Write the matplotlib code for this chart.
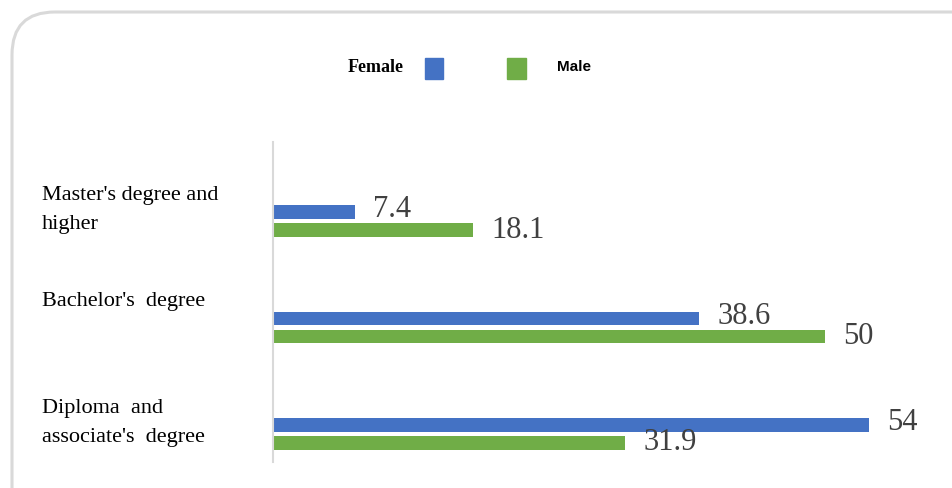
import matplotlib.pyplot as plt
from matplotlib.patches import FancyBboxPatch, Rectangle
from matplotlib.transforms import blended_transform_factory
import numpy as np

categories = ["Master's degree and\nhigher", "Bachelor's  degree", "Diploma  and\nassociate's  degree"]
female = [7.4, 38.6, 54]
male = [18.1, 50, 31.9]

BLUE = "#4472C4"
GREEN = "#70AD47"
TEXT = "#404040"
W, H = 953, 488

plt.rcParams['font.family'] = ['Liberation Serif', 'DejaVu Serif']

fig = plt.figure(figsize=(W / 100, H / 100), dpi=100)

# rounded frame around the whole chart
frame = FancyBboxPatch((12 / W, -0.2), (W + 40) / W, 1.2 - 12 / H,
                       boxstyle="round,pad=0,rounding_size=0.045",
                       transform=fig.transFigure, fill=False,
                       edgecolor="#d9d9d9", linewidth=2.2,
                       mutation_aspect=W / H)
fig.patches.append(frame)

# plot area
x0, x1 = 273, 273 + 11.04 * 60
ytop, ybot = 142, 462
ax = fig.add_axes([x0 / W, 1 - ybot / H, (x1 - x0) / W, (ybot - ytop) / H])

y = np.arange(len(categories))
h = 0.131
off = 0.0845
ax.barh(y - off, female, height=h, color=BLUE)
ax.barh(y + off, male, height=h, color=GREEN)

ax.set_xlim(0, 60)
ax.set_ylim(2.263, -0.742)
for s in ['top', 'right', 'bottom']:
    ax.spines[s].set_visible(False)
ax.spines['left'].set_color("#d9d9d9")
ax.spines['left'].set_linewidth(1.5)
ax.set_xticks([])
ax.set_yticks([])

# value labels
for i in range(len(categories)):
    ax.annotate(f"{female[i]:g}", (female[i], y[i] - off), xytext=(13, 1.5),
                textcoords='offset points', va='center', ha='left',
                fontsize=22, color=TEXT)
    ax.annotate(f"{male[i]:g}", (male[i], y[i] + off), xytext=(13, 0),
                textcoords='offset points', va='center', ha='left',
                fontsize=22, color=TEXT)

# category labels, left aligned in the margin
tr = blended_transform_factory(fig.transFigure, ax.transData)
for i, c in enumerate(categories):
    ax.text(42 / W, y[i] - 0.33, c, transform=tr, va='top', ha='left',
            fontsize=16, color='black', linespacing=1.75)

# legend
fig.text(348 / W, 1 - 68 / H, "Female", fontsize=13, fontweight='bold',
         va='center', ha='left')
fig.patches.append(Rectangle((425 / W, 1 - 79 / H), 18 / W, 21 / H,
                             transform=fig.transFigure, color=BLUE))
fig.patches.append(Rectangle((507 / W, 1 - 79 / H), 19 / W, 21 / H,
                             transform=fig.transFigure, color=GREEN))
fig.text(557 / W, 1 - 67 / H, "Male", fontsize=11, fontweight='bold',
         family='Liberation Sans', va='center', ha='left')

fig.savefig("out.png", dpi=100)
